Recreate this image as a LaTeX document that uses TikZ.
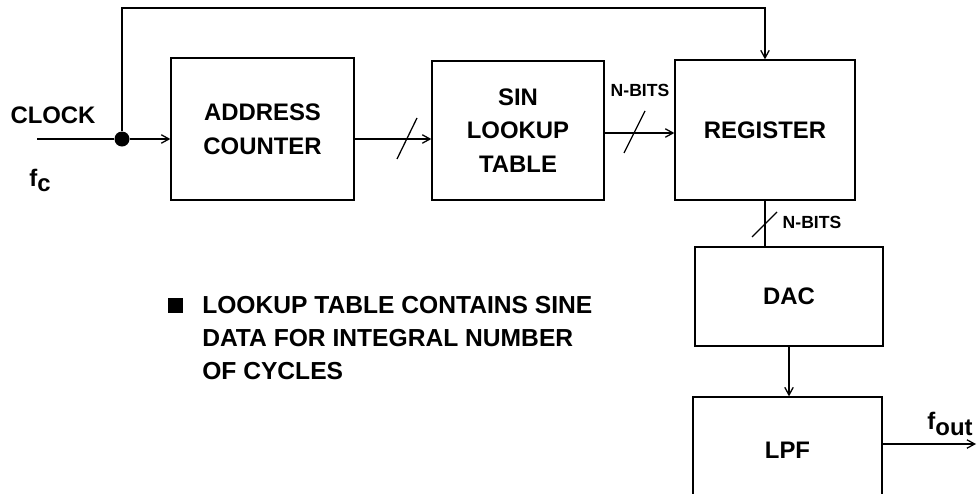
\documentclass[tikz,border=0pt]{standalone}
\usepackage{fontspec}
\setmainfont{Liberation Sans}
\usetikzlibrary{positioning}
\usetikzlibrary{arrows.meta}

\begin{document}
\begin{tikzpicture}[x=0.025cm, y=-0.025cm,
    >={Straight Barb[length=5.5pt,width=6pt]},
    block/.style={rectangle, draw, line width=0.9pt, align=center, font=\bfseries\fontsize{17}{24}\selectfont},
    bus/.style={line width=0.9pt},
    flow/.style={->, line width=0.9pt},
    tag/.style={font=\bfseries\fontsize{12.5}{15}\selectfont},
    big/.style={font=\bfseries\fontsize{17}{20}\selectfont}
]
    \useasboundingbox (0,0) rectangle (978,493);

    % Blocks
    \node[block, minimum width=4.575cm, minimum height=3.55cm] (addr) at (262.5,129) {ADDRESS\\COUNTER};
    \node[block, minimum width=4.3cm, minimum height=3.475cm] (sin) at (518,130.5) {SIN\\LOOKUP\\TABLE};
    \node[block, minimum width=4.5cm, minimum height=3.5cm] (reg) at (765,130) {REGISTER};
    \node[block, minimum width=4.7cm, minimum height=2.475cm] (dac) at (789,296.5) {DAC};
    \node[block, minimum width=4.725cm, minimum height=2.65cm] (lpf) at (787.5,450) {LPF};

    % Clock input
    \node[big] (clock) at (53,115) {CLOCK};
    \node[big] (fc) at (40,180) {f\raisebox{-0.4ex}{c}};
    \coordinate (clkin) at (37,139);
    \node[circle, fill, inner sep=0pt, minimum size=0.375cm] (dot) at (122,139) {};
    \coordinate (topleft) at (122,8);
    \draw[bus] (clkin) -- (dot);
    \draw[flow] (dot) -- (dot -| addr.west);
    \draw[flow] (dot) -- (topleft) -| (reg.north);

    % Data path
    \draw[flow] (addr.east |- dot) -- (sin.west |- dot);
    \draw[bus] (397,159) -- (417,118);
    \coordinate (nb) at (0,133);
    \draw[flow] (sin.east |- nb) -- (reg.west |- nb);
    \draw[bus] (624,153) -- (645,111);
    \node[tag] (nbits1) at (640,90) {N-BITS};
    \draw[bus] (reg.south) -- (reg.south |- dac.north);
    \draw[bus] (752,237) -- (777,212);
    \node[tag] (nbits2) at (812,222) {N-BITS};
    \draw[flow] (dac.south) -- (dac.south |- lpf.north);

    % Output
    \coordinate (out) at (976,444);
    \draw[flow] (lpf.east |- out) -- (out);
    \node[big] (fout) at (950,424) {f\raisebox{-0.45ex}{out}};

    % Note
    \node[fill, inner sep=0pt, minimum size=0.375cm] (sq) at (175.5,305.5) {};
    \node[anchor=north west, inner sep=0pt, align=left, font=\bfseries\fontsize{17.5}{23.5}\selectfont] (note) at (202,296) {LOOKUP TABLE CONTAINS SINE\\DATA FOR INTEGRAL NUMBER\\OF CYCLES};
\end{tikzpicture}
\end{document}
